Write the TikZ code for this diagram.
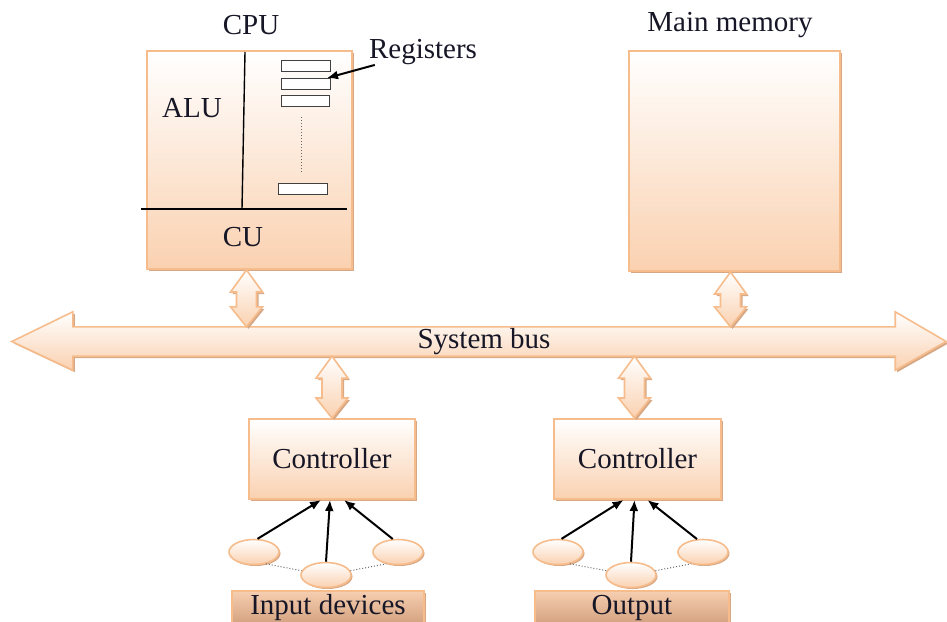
\documentclass[tikz,border=0pt]{standalone}
\usepackage{fontspec}
\setmainfont{Liberation Serif}
\usepackage{tikz}
\usetikzlibrary{shadows}
\usetikzlibrary{shapes.geometric}
\usetikzlibrary{arrows.meta}
\usetikzlibrary{calc}

\definecolor{peach}{RGB}{250,209,176}
\definecolor{peachline}{RGB}{246,188,140}
\definecolor{peachshadow}{RGB}{214,168,134}
\definecolor{tantop}{RGB}{246,206,176}
\definecolor{tanbottom}{RGB}{210,160,125}
\definecolor{inkdark}{RGB}{22,22,38}

\tikzset{
  unitbox/.style={draw=peachline, line width=2pt, top color=white, bottom color=peach,
    drop shadow={shadow xshift=2pt, shadow yshift=-2pt, fill=peachshadow, opacity=1},
    inner sep=0pt, anchor=north west},
  tagbox/.style={unitbox, top color=tantop, bottom color=tanbottom},
  devnode/.style={ellipse, draw=peachline, line width=1.6pt, top color=white, bottom color=peach,
    drop shadow={shadow xshift=1.5pt, shadow yshift=-1.5pt, fill=peachshadow, opacity=1},
    minimum width=50pt, minimum height=25pt, inner sep=0pt},
  regbox/.style={draw=black!75, line width=1pt, fill=white, inner sep=0pt, anchor=north west,
    minimum height=11pt},
  linkbody/.style={draw=peachline, line width=1.6pt, top color=white, bottom color=peach,
    drop shadow={shadow xshift=2pt, shadow yshift=-2pt, fill=peachshadow, opacity=1}},
  txt/.style={font=\fontsize{29}{33}\selectfont, text=inkdark, inner sep=0pt},
  ptr/.style={-{Latex[length=11pt,width=9pt]}, line width=2pt, black},
  dotlink/.style={dotted, line width=1pt, black!60}
}

% vertical double arrow between two points, top point first
\newcommand{\linkarrow}[2]{%
  \path[linkbody] (#1) -- ++(16,22) -- ++(-6,0) -- ($(#2)+(10,-20)$) -- ++(6,0) -- (#2)
    -- ++(-16,-20) -- ++(6,0) -- ($(#1)+(-10,22)$) -- ++(-6,0) -- cycle;}

\begin{document}
\begin{tikzpicture}[x=1pt,y=1pt,yscale=-1,xscale=1]
\useasboundingbox (0,0) rectangle (947,621);

%CPU
\node[unitbox, minimum width=205pt, minimum height=218pt] (cpu) at (146,50) {};
\node[txt] (cpulbl) at (251,25) {CPU};
\node[txt] (alu) at (192,108) {ALU};
\node[txt] (cu) at (243,237) {CU};
\draw[line width=1.4pt, black] (245,52) -- (242,209);
\draw[line width=1.4pt, black] (141,209) -- (347,209);

%Registers
\node[regbox, minimum width=49pt] (reg1) at (281,60) {};
\node[regbox, minimum width=49pt] (reg2) at (281,78) {};
\node[regbox, minimum width=48pt] (reg3) at (281,95) {};
\node[regbox, minimum width=49pt] (reg4) at (278,183) {};
\draw[dotlink] (301,117) -- (301,173);
\node[txt] (reglbl) at (423,52) {Registers};
\draw[ptr] ([xshift=6pt]reglbl.south west) -- ([xshift=-4pt]reg2.north east);

%Main memory
\node[unitbox, minimum width=211pt, minimum height=220pt] (mem) at (628,50) {};
\node[txt] (memlbl) at (730,25) {Main memory};

%System bus
\path (484,341.5) node[minimum width=822pt, minimum height=29pt, inner sep=0pt] (bus) {};
\path[linkbody] (bus.north west) -- ++(0,-15) -- ($(bus.west)+(-61,0)$) -- ($(bus.south west)+(0,14)$)
  -- (bus.south west) -- (bus.south east) -- ++(0,14) -- ($(bus.east)+(51,0)$)
  -- ($(bus.north east)+(0,-15)$) -- (bus.north east) -- cycle;
\node[txt] (buslbl) at (bus) {System bus};

%Controllers
\node[unitbox, minimum width=166pt, minimum height=80pt] (ctrlA) at (248,418) {};
\node[txt] at (ctrlA) {Controller};
\node[unitbox, minimum width=167pt, minimum height=80pt] (ctrlB) at (553,418) {};
\node[txt] at (ctrlB) {Controller};

%Links to the bus
\coordinate (cpuB) at ($(cpu.south |- bus.north)+(-3,0)$);
\linkarrow{$(cpu.south)+(-3,0)$}{cpuB}
\coordinate (memB) at ($(mem.south |- bus.north)+(-4,0)$);
\linkarrow{$(mem.south)+(-4,0)$}{memB}
\coordinate (ctrlAT) at (ctrlA.north |- bus.south);
\linkarrow{ctrlAT}{ctrlA.north}
\coordinate (ctrlBT) at ($(ctrlB.north |- bus.south)+(-3,0)$);
\linkarrow{ctrlBT}{$(ctrlB.north)+(-3,0)$}

%Input devices
\node[devnode] (devA1) at (254,552) {};
\node[devnode] (devA2) at (326,575) {};
\node[devnode] (devA3) at (398,552) {};
\draw[dotlink] (devA1.-45) -- (devA2.170);
\draw[dotlink] (devA2.10) -- (devA3.-135);
\draw[ptr] (devA1.75) -- ([xshift=-11pt]ctrlA.south);
\draw[ptr] (devA2.north) -- ([xshift=-2pt]ctrlA.south);
\draw[ptr] (devA3.112) -- ([xshift=12pt]ctrlA.south);
\node[tagbox, minimum width=192pt, minimum height=34pt] (inbox) at (231,590) {};
\node[txt] at (inbox) {Input devices};

%Output devices
\node[devnode] (devB1) at (558,552) {};
\node[devnode] (devB2) at (631,575) {};
\node[devnode] (devB3) at (703,552) {};
\draw[dotlink] (devB1.-45) -- (devB2.170);
\draw[dotlink] (devB2.10) -- (devB3.-135);
\draw[ptr] (devB1.75) -- ([xshift=-14pt]ctrlB.south);
\draw[ptr] (devB2.north) -- ([xshift=-3pt]ctrlB.south);
\draw[ptr] (devB3.115) -- ([xshift=10pt]ctrlB.south);
\node[tagbox, minimum width=194pt, minimum height=34pt] (outbox) at (534,590) {};
\node[txt] at (outbox) {Output};

\end{tikzpicture}
\end{document}
